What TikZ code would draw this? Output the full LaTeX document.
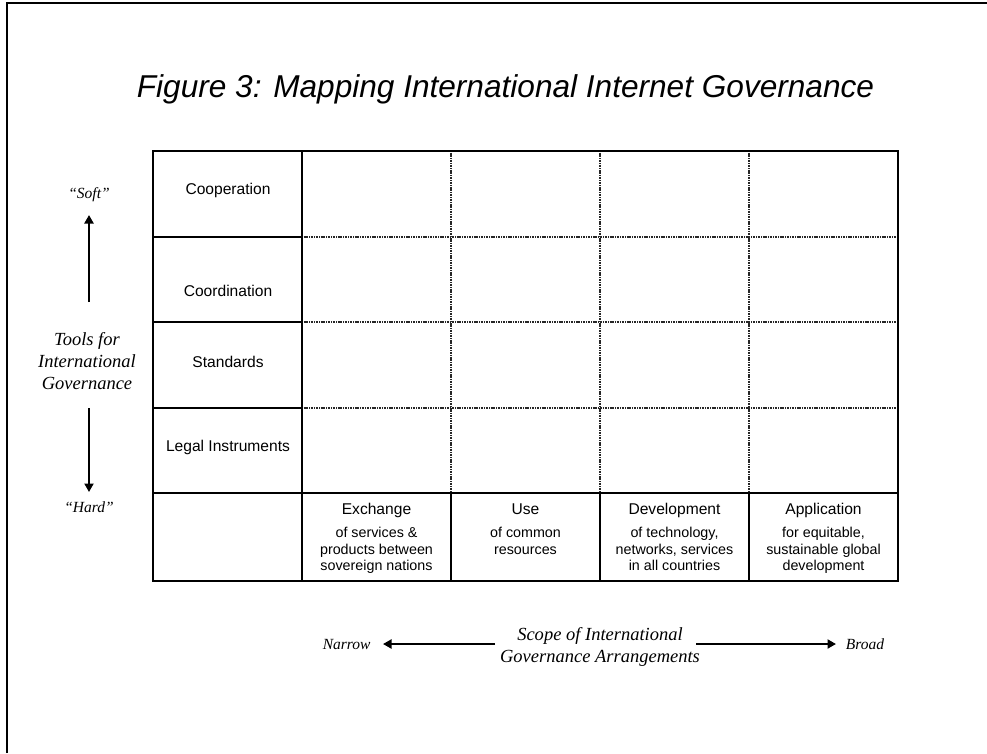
\documentclass[tikz,border=0pt]{standalone}
\usepackage{fontspec}
\setmainfont{Liberation Serif}
\newfontfamily\arialfont{Liberation Sans}
\usetikzlibrary{arrows.meta}
\tikzset{
  tabline/.style={line width=1.3pt, black},
  dotline/.style={line width=1.8pt, black!85, dash pattern=on 1.1pt off 0.6pt},
  rowlabel/.style={font=\arialfont\fontsize{15.6}{18}\selectfont, inner sep=0pt},
  colhead/.style={font=\arialfont\fontsize{15.6}{18}\selectfont, inner sep=0pt, anchor=base},
  colbody/.style={font=\arialfont\fontsize{14.3}{16.5}\selectfont, inner sep=0pt, anchor=north, align=center},
  bigital/.style={font=\itshape\fontsize{18.5}{22}\selectfont, inner sep=0pt, align=center},
  smital/.style={font=\itshape\fontsize{15.5}{18}\selectfont, inner sep=0pt},
  arr/.style={line width=2pt, -{Triangle[width=9pt,length=8.5pt]}}
}
\begin{document}
\begin{tikzpicture}[x=1pt,y=-1pt]
\useasboundingbox (0,0) rectangle (987,753);
% page frame
\draw[line width=1.5pt] (7,753) -- (7,3) -- (987,3);
% title
\node[font=\arialfont\itshape\fontsize{31.6}{36}\selectfont, anchor=base, inner sep=0pt] (title) at (505.5,97) {Figure 3: Mapping International Internet Governance};
% dotted interior grid
\foreach \yy in {237,322,408} { \draw[dotline] (302,\yy) -- (898,\yy); }
\foreach \xx in {451,600,749} { \draw[dotline] (\xx,151) -- (\xx,493); }
% solid lines
\draw[tabline] (153,151) rectangle (898,581);
\draw[tabline] (302,151) -- (302,581);
\foreach \yy in {237,322,408} { \draw[tabline] (153,\yy) -- (302,\yy); }
\draw[tabline] (153,493) -- (898,493);
\foreach \xx in {451,600,749} { \draw[tabline] (\xx,493) -- (\xx,581); }
% row labels
\node[rowlabel] (coop) at (228,190) {Cooperation};
\node[rowlabel] (coord) at (228,291) {Coordination};
\node[rowlabel] (stand) at (228,362) {Standards};
\node[rowlabel] (legal) at (228,447) {Legal Instruments};
% column heads
\node[colhead] (h1) at (376.5,514.4) {Exchange};
\node[colbody] (b1) at (376.5,527) {of services \&\\products between\\sovereign nations};
\node[colhead] (h2) at (525.5,514.4) {Use};
\node[colbody] (b2) at (525.5,527) {of common\\resources};
\node[colhead] (h3) at (674.5,514.4) {Development};
\node[colbody] (b3) at (674.5,527) {of technology,\\networks, services\\in all countries};
\node[colhead] (h4) at (823.5,514.4) {Application};
\node[colbody] (b4) at (823.5,527) {for equitable,\\sustainable global\\development};
% left axis
\node[smital] (soft) at (89,195) {“Soft”};
\node[bigital] (tools) at (87,361) {Tools for\\International\\Governance};
\node[smital] (hard) at (89,507) {“Hard”};
\coordinate (upfrom) at (89,302);
\coordinate (upto) at (89,215);
\coordinate (dnfrom) at (89,408);
\coordinate (dnto) at (89,492);
\draw[arr] (upfrom) -- (upto);
\draw[arr] (dnfrom) -- (dnto);
% bottom axis
\node[smital] (narrow) at (346.7,644) {Narrow};
\node[bigital] (scope) at (600,647) {Scope of International\\Governance Arrangements};
\node[smital] (broad) at (865,644) {Broad};
\coordinate (lfrom) at (495,644);
\coordinate (lto) at (383,644);
\coordinate (rfrom) at (696,644);
\coordinate (rto) at (836,644);
\draw[arr] (lfrom) -- (lto);
\draw[arr] (rfrom) -- (rto);
\end{tikzpicture}
\end{document}
